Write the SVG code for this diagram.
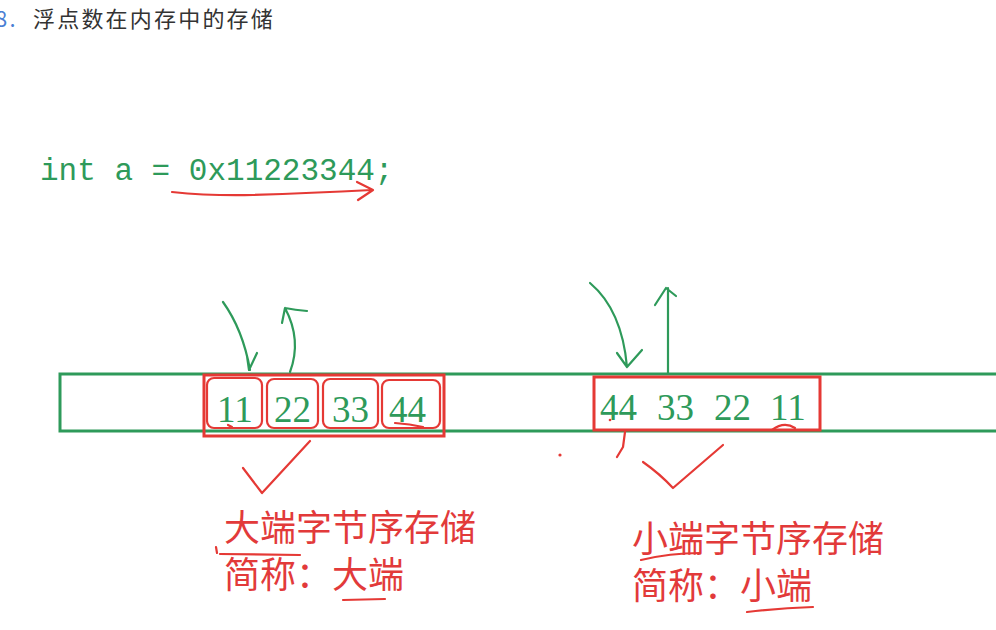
<svg xmlns="http://www.w3.org/2000/svg" width="996" height="630" viewBox="0 0 996 630">
<style>
.title{font-family:"Noto Sans CJK SC","Noto Sans",sans-serif;font-size:22px;fill:#333;letter-spacing:2.2px}
.code{font-family:"Liberation Mono","DejaVu Sans Mono",monospace;font-size:31px;fill:#2e9a5a}
.num{font-family:"Liberation Serif","Noto Serif",serif;font-size:37px;fill:#2e9a5a}
.lbl{font-family:"Noto Sans CJK SC",sans-serif;font-size:36px;fill:#e23a3a}
.g{fill:none;stroke:#2e9a5a;stroke-width:2.2;stroke-linecap:round;stroke-linejoin:round}
.r{fill:none;stroke:#e53935;stroke-width:2.2;stroke-linecap:round;stroke-linejoin:round}
.rb{fill:none;stroke:#e53935;stroke-width:3}
.mem{fill:none;stroke:#2e9a5a;stroke-width:3}
</style>
<rect width="996" height="630" fill="#fff"/>
<g id="title">
<text x="-5" y="27" class="title" fill="#4a7fd4" style="fill:#4a7fd4">8.</text>
<text x="33" y="27" class="title">浮点数在内存中的存储</text>
</g>
<g id="code">
<text x="40" y="180" class="code">int a = 0x11223344;</text>
<path class="r" d="M172 192 Q210 196 253 195 Q310 193 372 190 M357 182 L373 190 L358 200"/>
</g>
<g id="memory">
<path class="mem" d="M1000 374 H60 V431 H1000"/>
</g>
<g id="bigEndian">
<rect class="rb" x="204" y="375" width="240" height="61"/>
<rect class="r" x="207" y="378" width="55" height="50" rx="7"/>
<rect class="r" x="267" y="379" width="51" height="49" rx="7"/>
<rect class="r" x="323" y="379" width="55" height="49" rx="7"/>
<rect class="r" x="382" y="380" width="58" height="48" rx="7"/>
<text x="217" y="422" class="num">11</text>
<text x="274" y="422" class="num">22</text>
<text x="332" y="422" class="num">33</text>
<text x="389" y="422" class="num">44</text>
<path class="r" d="M395 423 Q410 424 423 427 M228 425 L232 427"/>
<path class="g" d="M223 302 Q243 330 250 370 M247 356 L249 370 L257 353"/>
<path class="g" d="M290 372 Q302 340 285 308 M282 323 L285 308 Q295 310 307 311"/>
<path class="r" d="M243 468 L262 493 L310 441"/>
</g>
<g id="littleEndian">
<rect class="rb" x="594" y="377" width="226" height="53"/>
<text x="600" y="420" class="num">44</text>
<text x="657" y="420" class="num">33</text>
<text x="714" y="420" class="num">22</text>
<text x="770" y="420" class="num">11</text>
<path class="g" d="M590 283 Q622 310 627 367 M617 353 L627 367 L642 350"/>
<path class="g" d="M668 373 V288 M655 305 L666 288 L676 296"/>
<path class="r" d="M625 432 L623 447 L617 457 M772 430 Q784 421 795 428"/>
<circle cx="610" cy="420" r="1.3" fill="#e53935"/>
<circle cx="560" cy="455" r="1.6" fill="#e53935"/>
<path class="r" d="M643 462 Q660 474 673 488 L723 445"/>
</g>
<g id="labelBig">
<text x="224" y="541" class="lbl">大端字节序存储</text>
<text x="224" y="588" class="lbl">简称：大端</text>
<path class="r" d="M220 554 L300 555 M216 547 L217 553 M343 600 L385 599"/>
</g>
<g id="labelLittle">
<text x="632" y="552" class="lbl">小端字节序存储</text>
<text x="632" y="599" class="lbl">简称：小端</text>
<path class="r" d="M641 560 Q670 553 700 553 M747 612 Q780 608 813 607"/>
</g>
</svg>
